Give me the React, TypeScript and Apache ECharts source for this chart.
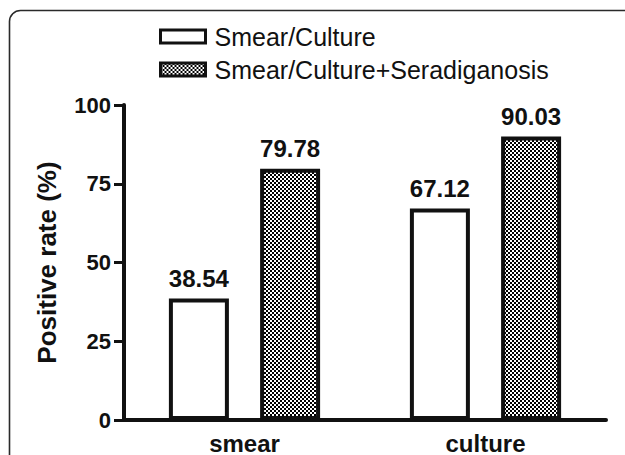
import React, { useEffect, useRef } from "react";
import * as echarts from "echarts";

const categories = ["smear", "culture"];
const seriesNames = ["Smear/Culture", "Smear/Culture+Seradiganosis"];
const smearCulture = [38.54, 67.12];
const withSero = [79.78, 90.03];
const yTicks = { min: 0, max: 100, interval: 25 };

function makePattern(): HTMLCanvasElement {
  const c = document.createElement("canvas");
  c.width = 4;
  c.height = 4;
  const ctx = c.getContext("2d")!;
  ctx.fillStyle = "#ffffff";
  ctx.fillRect(0, 0, 4, 4);
  ctx.fillStyle = "#000000";
  ctx.fillRect(0, 0, 2, 2);
  ctx.fillRect(2, 2, 2, 2);
  return c;
}

export default function App() {
  const ref = useRef<HTMLDivElement>(null);
  useEffect(() => {
    if (!ref.current) return;
    const chart = echarts.init(ref.current, undefined, { renderer: "svg" });
    const pattern = makePattern();
    const font = "'Liberation Sans', Arial, sans-serif";
    const labelCfg = {
      show: true,
      position: "top" as const,
      distance: 8,
      fontSize: 24,
      fontWeight: "bold" as const,
      color: "#111",
      fontFamily: font,
    };
    chart.setOption({
      animation: false,
      textStyle: { fontFamily: font },
      graphic: [
        {
          type: "rect",
          shape: { x: 9.5, y: 10.5, width: 700, height: 500, r: 11 },
          style: { fill: "none", stroke: "#2a2a2a", lineWidth: 1.6 },
          silent: true,
        },
      ],
      legend: {
        orient: "vertical",
        left: 154,
        top: 18,
        icon: "rect",
        itemWidth: 45,
        itemHeight: 13,
        itemGap: 6,
        textStyle: {
          fontSize: 25,
          color: "#111",
          fontFamily: font,
          lineHeight: 27,
          padding: [0, 0, 0, 4],
        },
        data: [
          { name: seriesNames[0], itemStyle: { borderWidth: 3, borderColor: "#111" } },
          { name: seriesNames[1], itemStyle: { borderWidth: 3, borderColor: "#111" } },
        ],
      },
      grid: { left: 124, right: 19, top: 105, bottom: 33, containLabel: false },
      xAxis: {
        type: "category",
        data: categories,
        axisLine: { lineStyle: { color: "#111", width: 4 } },
        axisTick: { alignWithLabel: true, length: 10, lineStyle: { color: "#111", width: 3 } },
        axisLabel: { fontSize: 24, fontWeight: "bold", color: "#111", margin: 11, fontFamily: font },
      },
      yAxis: {
        type: "value",
        min: yTicks.min,
        max: yTicks.max,
        interval: yTicks.interval,
        name: "Positive rate (%)",
        nameLocation: "middle",
        nameGap: 64,
        nameTextStyle: { fontSize: 26, fontWeight: "bold", color: "#111", fontFamily: font },
        axisLine: { show: true, lineStyle: { color: "#111", width: 4 } },
        axisTick: { show: true, length: 10, lineStyle: { color: "#111", width: 3 } },
        axisLabel: { fontSize: 22, fontWeight: "bold", color: "#111", margin: 13, fontFamily: font },
        splitLine: { show: false },
      },
      series: [
        {
          name: seriesNames[0],
          type: "bar",
          data: smearCulture,
          barWidth: 60,
          barGap: "52%",
          itemStyle: { color: "#ffffff", borderColor: "#111", borderWidth: 4 },
          label: { ...labelCfg, formatter: (p: any) => p.value.toFixed(2) },
        },
        {
          name: seriesNames[1],
          type: "bar",
          data: withSero,
          barWidth: 60,
          barGap: "52%",
          itemStyle: {
            color: { image: pattern, repeat: "repeat", imageWidth: 4, imageHeight: 4 } as any,
            borderColor: "#111",
            borderWidth: 4,
          },
          label: { ...labelCfg, formatter: (p: any) => p.value.toFixed(2) },
        },
      ],
    });
    return () => chart.dispose();
  }, []);
  return <div ref={ref} style={{ width: 625, height: 455, position: "absolute", left: 0, top: 0 }} />;
}
